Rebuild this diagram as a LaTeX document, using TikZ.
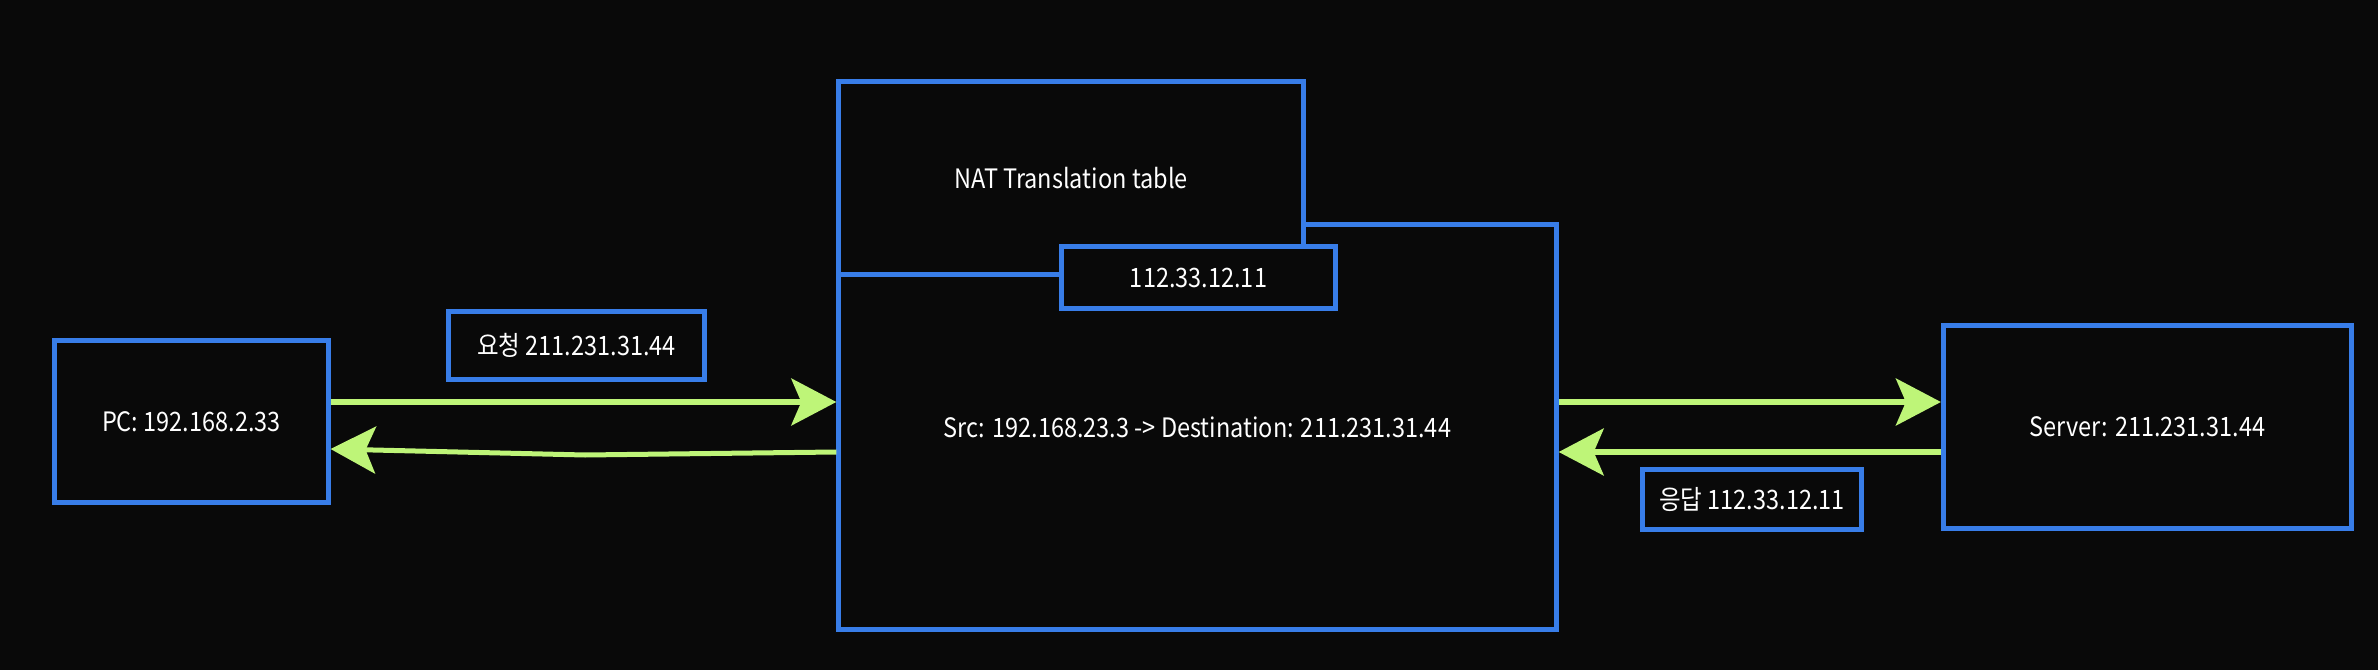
\documentclass[tikz,border=0pt]{standalone}
\usepackage{fontspec}
\setmainfont{Noto Sans CJK KR}[FakeStretch=0.88]
\usepackage{xcolor}
\usepackage{tikz}
\usetikzlibrary{
  positioning,
  arrows.meta
}

\definecolor{bgdark}{RGB}{9,9,9}
\definecolor{boxblue}{RGB}{56,125,232}
\definecolor{flowgreen}{RGB}{190,245,120}

\begin{document}
\begin{tikzpicture}[
  x=0.01cm, y=-0.01cm,
  font=\fontsize{7.6}{9}\selectfont,
  hostbox/.style={
    rectangle,
    draw=boxblue,
    fill=bgdark,
    text=white,
    line width=0.05cm,
    inner sep=0pt,
    align=center
  },
  tagbox/.style={
    hostbox,
    minimum height=0.62cm
  },
  flow/.style={
    -{Stealth[length=0.45cm, width=0.47cm, inset=0.1cm]},
    line width=0.05cm,
    draw=flowgreen
  }
]

% Canvas
\fill[bgdark] (0,0) rectangle (2378,670);

% Hosts (PC, NAT router, Server)
\node[hostbox, minimum width=2.73cm, minimum height=1.61cm] (pc) at (191.5,421.5)
  {PC: 192.168.2.33};

\node[hostbox, minimum width=7.17cm, minimum height=4.04cm] (nat) at (1197.5,427)
  {Src: 192.168.23.3 -> Destination: 211.231.31.44};

\node[hostbox, minimum width=4.64cm, minimum height=1.935cm] (table) at (1071,178)
  {NAT Translation table};

\node[tagbox, minimum width=2.74cm] (pubip) at (1198.5,277.5)
  {112.33.12.11};

\node[hostbox, minimum width=4.08cm, minimum height=2.03cm] (server) at (2147.5,427)
  {Server: 211.231.31.44};

% Packet labels
\node[tagbox, minimum width=2.56cm, minimum height=0.68cm] (req) at (576.5,345.5)
  {요청 211.231.31.44};

\node[tagbox, minimum width=2.19cm, minimum height=0.60cm] (res) at (1752,499.5)
  {응답 112.33.12.11};

% Flow levels
\coordinate (goy) at (0,402);
\coordinate (backy) at (0,452);
\coordinate (pcback) at (0,449);
\coordinate (sag) at (585,455);

% Request out, response back
\draw[flow] (pc.east |- goy) -- (nat.west |- goy);
\draw[flow] (nat.west |- backy) -- (sag) -- (pc.east |- pcback);
\draw[flow] (nat.east |- goy) -- (server.west |- goy);
\draw[flow] (server.west |- backy) -- (nat.east |- backy);

\end{tikzpicture}
\end{document}
